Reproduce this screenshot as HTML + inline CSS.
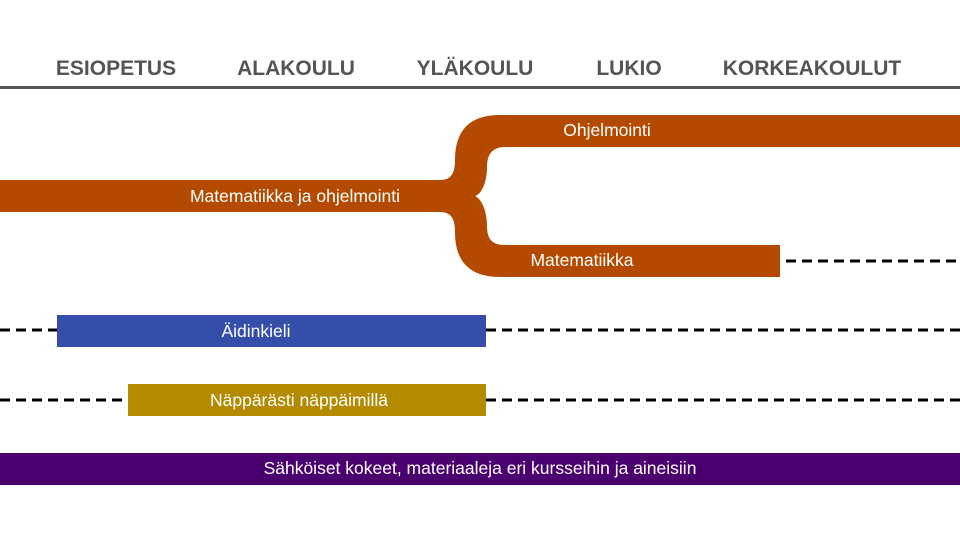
<!DOCTYPE html>
<html><head><meta charset="utf-8"><style>
body{margin:0;width:960px;height:540px;background:#fff;overflow:hidden;font-family:"Liberation Sans",sans-serif}
</style></head><body>
<svg width="960" height="540" xmlns="http://www.w3.org/2000/svg" font-family="Liberation Sans, sans-serif">
<g fill="#555" font-size="21" font-weight="bold" text-anchor="middle">
<text x="116" y="75">ESIOPETUS</text>
<text x="296" y="75">ALAKOULU</text>
<text x="475" y="75">YLÄKOULU</text>
<text x="629" y="75">LUKIO</text>
<text x="812" y="75">KORKEAKOULUT</text>
</g>
<rect x="0" y="86" width="960" height="3" fill="#555"/>
<path fill="#b34a00" d="M0,180 L440,180 C452,180 455,172 455,160 C455,130 470,115 500,115 L960,115 L960,147 L505,147 C492,147 487,155 487,167 C487,185 480,195 475,196 C480,198 487,208 487,226 C487,239 492,245 505,245 L780,245 L780,277 L500,277 C470,277 455,262 455,232 C455,220 452,212 440,212 L0,212 Z"/>
<g stroke="#000" stroke-width="3" stroke-dasharray="10,6">
<line x1="786" y1="261" x2="960" y2="261"/>
<line x1="0" y1="330" x2="57" y2="330"/>
<line x1="486" y1="330" x2="960" y2="330"/>
<line x1="0" y1="400" x2="128" y2="400"/>
<line x1="486" y1="400" x2="960" y2="400"/>
</g>
<rect x="57" y="315" width="429" height="32" fill="#344ea9"/>
<rect x="128" y="384" width="358" height="32" fill="#b38a00"/>
<rect x="0" y="453" width="960" height="32" fill="#4b0070"/>
<g fill="#fff" font-size="17.5" text-anchor="middle">
<text x="295" y="202">Matematiikka ja ohjelmointi</text>
<text x="607" y="136">Ohjelmointi</text>
<text x="582" y="266">Matematiikka</text>
<text x="256" y="337">Äidinkieli</text>
<text x="299" y="406">Näppärästi näppäimillä</text>
<text x="480" y="474">Sähköiset kokeet, materiaaleja eri kursseihin ja aineisiin</text>
</g>
</svg>
</body></html>
